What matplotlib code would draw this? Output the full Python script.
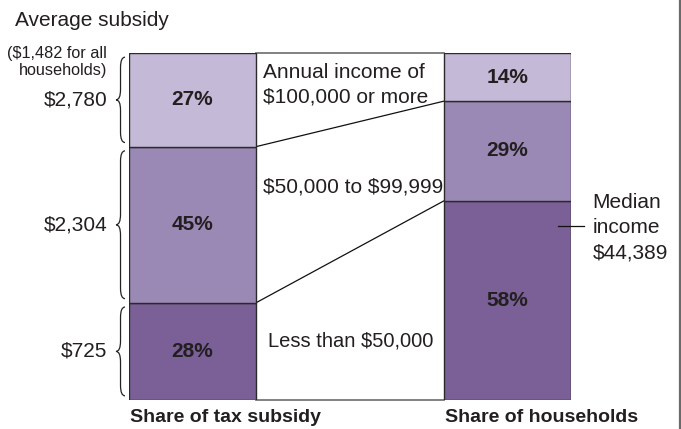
import matplotlib
matplotlib.use("Agg")
import matplotlib.pyplot as plt
from matplotlib.path import Path
from matplotlib.patches import PathPatch
from matplotlib.lines import Line2D

plt.rcParams['font.family'] = ['Liberation Sans', 'DejaVu Sans']
plt.rcParams['text.parse_math'] = False

# Data
bar_labels = ["Share of tax subsidy", "Share of households"]
groups = ["Less than $50,000", "$50,000 to $99,999", "Annual income of\n$100,000 or more"]
subsidy_share = [28, 45, 27]
household_share = [58, 29, 14]
avg_subsidy = ["$725", "$2,304", "$2,780"]
colors = ["#7a6096", "#9a89b4", "#c4b9d6"]
median_label = "Median\nincome\n$44,389"
median_pos = 50

W, H = 681, 429
fig = plt.figure(figsize=(W / 100, H / 100), dpi=100)
ax = fig.add_axes([129 / W, 29 / H, 442 / W, 347 / H])
U = 315.5  # pixels per x unit
bw = 127 / U
ax.set_xlim(-0.2013, 1.2013)
ax.set_ylim(0, 100)
ax.axis('off')

TXT = '#231f20'

def norm(v):
    s = sum(v)
    return [x * 100 / s for x in v]

series = [norm(subsidy_share), norm(household_share)]
raw = [subsidy_share, household_share]
cums = []
for xi, vals in enumerate(series):
    bottom = 0
    c = [0]
    for i, v in enumerate(vals):
        ax.bar(xi, v, bottom=bottom, width=bw, color=colors[i], edgecolor='#2a2a2a',
               linewidth=1.0, zorder=2)
        ax.text(xi, bottom + v / 2, f"{raw[xi][i]}%", ha='center', va='center',
                fontsize=15, fontweight='bold', color=TXT, zorder=3)
        bottom += v
        c.append(bottom)
    cums.append(c)

# frame lines between bars
for y in (0, 100):
    ax.plot([bw / 2, 1 - bw / 2], [y, y], color='#777777', lw=1.3, zorder=1, clip_on=False)

# connecting lines
for k in (1, 2):
    ax.plot([bw / 2, 1 - bw / 2], [cums[0][k], cums[1][k]], color='#111111', lw=0.9, zorder=1)

# group labels
gx = bw / 2 + 7 / U
ax.text(gx, 100 - 31.5 / 3.47, groups[2], ha='left', va='center', fontsize=15, color=TXT,
        linespacing=1.37)
ax.text(gx, 100 - 134 / 3.47, groups[1], ha='left', va='center', fontsize=15, color=TXT)
ax.text(gx + 5 / U, 17, groups[0], ha='left', va='center', fontsize=14.5, color=TXT)

# braces
def brace(y0, y1, xr, w, d):
    ym = (y0 + y1) / 2
    xm = xr - w / 2
    verts = [(xr, y0), (xm, y0), (xm, y0 + d),
             (xm, ym - d), (xm, ym), (xr - w, ym),
             (xm, ym), (xm, ym + d),
             (xm, y1 - d), (xm, y1), (xr, y1)]
    codes = [Path.MOVETO, Path.CURVE3, Path.CURVE3,
             Path.LINETO, Path.CURVE3, Path.CURVE3,
             Path.CURVE3, Path.CURVE3,
             Path.LINETO, Path.CURVE3, Path.CURVE3]
    return PathPatch(Path(verts, codes), fill=False, lw=0.9, ec='#222222', clip_on=False)

xr = -bw / 2 - 4 / U
bwid = 9 / U
for i in range(3):
    y0, y1 = cums[0][i] + 1.2, cums[0][i + 1] - 1.2
    ax.add_patch(brace(y0, y1, xr, bwid, 3.0))
    ax.text(-bw / 2 - 22 / U, (cums[0][i] + cums[0][i + 1]) / 2, avg_subsidy[i],
            ha='right', va='center', fontsize=15, color=TXT)

fig.text(15 / W, 1 - 21 / H, "Average subsidy", ha='left', va='center', fontsize=15, color=TXT)
fig.text(107 / W, 1 - 62 / H, "($1,482 for all\nhouseholds)", ha='right', va='center',
         fontsize=11.7, color=TXT, linespacing=1.15)

# bar titles
for xi, lab in enumerate(bar_labels):
    ax.text(xi - bw / 2 + 1 / U, -5.0, lab, ha='left', va='center', fontsize=14,
            fontweight='bold', color=TXT)

# median income annotation
ax.plot([1 + 50 / U, 1 + 77 / U], [median_pos, median_pos], color='#111111', lw=0.9,
        clip_on=False, zorder=3)
ax.text(1 + 85 / U, median_pos - 0.4, median_label, ha='left', va='center', fontsize=15,
        color=TXT, linespacing=1.42)

# right border line
fig.add_artist(Line2D([679.5 / W, 679.5 / W], [0, 1], color='#6a6a6a', lw=1.6))

fig.savefig("out.png", dpi=100)
